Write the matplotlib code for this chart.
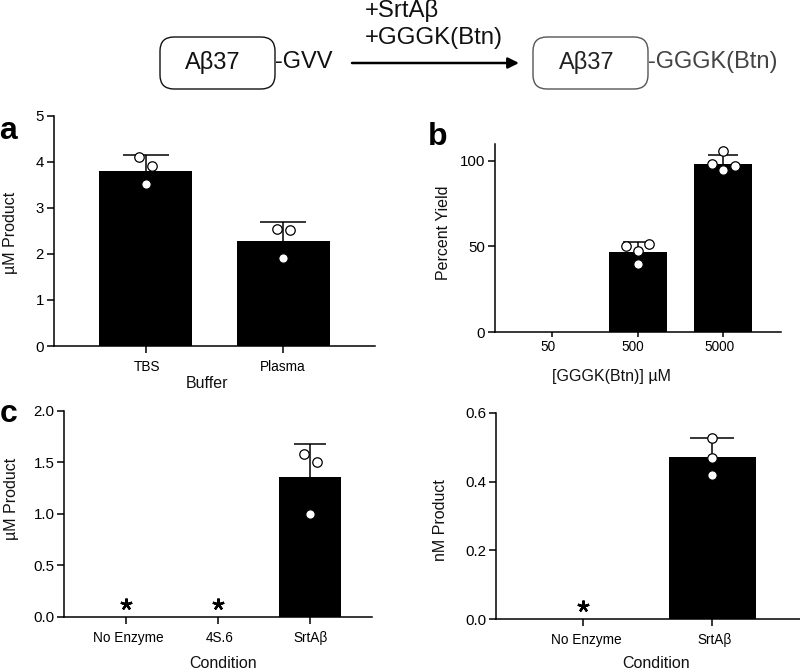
import matplotlib
matplotlib.use("Agg")
import matplotlib.pyplot as plt
from matplotlib.patches import FancyBboxPatch, FancyArrowPatch
from matplotlib.transforms import ScaledTranslation

W, H = 800, 669
plt.rcParams['font.family'] = ['Liberation Sans', 'DejaVu Sans']

# Panel a
a_cats = ["TBS", "Plasma"]
a_vals = [3.81, 2.29]
a_tops = [4.15, 2.70]
a_pts = [[4.11, 3.90, 3.51], [2.55, 2.51, 1.90]]
a_off = [[-0.047, 0.047, 0], [-0.047, 0.047, 0]]
# Panel b
b_cats = ["50", "500", "5000"]
b_vals = [0, 46.7, 98.3]
b_tops = [None, 52.3, 103.5]
b_pts = [[], [50.0, 51.2, 47.3, 39.9], [105.7, 97.9, 97.1, 94.4]]
b_off = [[], [-0.132, 0.132, 0, 0], [0, -0.132, 0.132, 0]]
# Panel c
c_cats = ["No Enzyme", "4S.6", "SrtAβ"]
c_vals = [0, 0, 1.353]
c_tops = [None, None, 1.676]
c_pts = [[], [], [1.58, 1.50, 1.00]]
c_off = [[], [], [-0.07, 0.07, 0]]
c_stars = [(0, 0.12), (1, 0.12)]
# Panel d
d_cats = ["No Enzyme", "SrtAβ"]
d_vals = [0, 0.470]
d_tops = [None, 0.527]
d_pts = [[], [0.527, 0.469, 0.419]]
d_off = [[], [0, 0, 0]]
d_stars = [(0, 0.039)]

fig = plt.figure(figsize=(W / 100, H / 100), dpi=100)

def px_axes(l, r, t, b):
    return fig.add_axes([l / W, 1 - b / H, (r - l) / W, (b - t) / H])

def ftext(x, y, s, **kw):
    kw.setdefault('ha', 'center')
    kw.setdefault('va', 'center')
    fig.text(x / W, 1 - y / H, s, **kw)

def panel(box, xlim, ylim, yticks, ylabels, cats, vals, tops, pts, offs,
          shifts, tick_len=5, stars=(), cap=34, pad=5):
    ax = px_axes(*box)
    ax.set_xlim(*xlim)
    ax.set_ylim(*ylim)
    xs = list(range(len(cats)))
    ax.bar(xs, vals, width=0.676, color='black', zorder=2)
    for x, v, tp, p, o in zip(xs, vals, tops, pts, offs):
        if tp is not None:
            ax.plot([x, x], [v, tp], color='black', lw=1.1, zorder=3,
                    solid_capstyle='butt')
            ax.plot([x], [tp], marker='_', ms=cap, mew=1.1, color='black', zorder=3)
        for yy, dx in zip(p, o):
            ax.plot([x + dx], [yy], 'o', ms=6.8, mfc='white', mec='black',
                    mew=0.9, zorder=4, clip_on=False)
    for sx, sy in stars:
        ax.plot([sx], [sy], marker=(5, 2, 0), ms=8.5, mew=1.7, color='black',
                zorder=4, clip_on=False)
    for s in ('top', 'right'):
        ax.spines[s].set_visible(False)
    for s in ('left', 'bottom'):
        ax.spines[s].set_linewidth(1.1)
    ax.set_yticks(yticks)
    ax.set_yticklabels(ylabels)
    ax.tick_params(axis='y', length=5, width=1.1, pad=2, labelsize=10.8)
    ax.set_xticks(xs)
    ax.set_xticklabels(cats)
    ax.tick_params(axis='x', length=tick_len, width=1.1, pad=pad, labelsize=9.8)
    for lab, dx in zip(ax.get_xticklabels(), shifts):
        lab.set_transform(lab.get_transform() +
                          ScaledTranslation(dx / 100, 0, fig.dpi_scale_trans))
    return ax

panel((53.5, 375, 115.7, 346), (-0.67, 1.666), (0, 5), range(6),
      list("012345"), a_cats, a_vals, a_tops, a_pts, a_off, [1, -1], cap=33)
panel((495, 780.7, 144, 332), (-0.665, 2.67), (0, 109.7), [0, 50, 100],
      ["0", "50", "100"], b_cats, b_vals, b_tops, b_pts, b_off, [-4, -5, -4],
      tick_len=3.8, cap=22, pad=2.2)
panel((64.3, 371.7, 410.7, 616.7), (-0.667, 2.667), (0, 2.0),
      [0, 0.5, 1.0, 1.5, 2.0], ["0.0", "0.5", "1.0", "1.5", "2.0"],
      c_cats, c_vals, c_tops, c_pts, c_off, [3, 2, 0], stars=c_stars, cap=23)
panel((496, 800, 412.7, 619.3), (-0.67, 1.675), (0, 0.6),
      [0, 0.2, 0.4, 0.6], ["0.0", "0.2", "0.4", "0.6"],
      d_cats, d_vals, d_tops, d_pts, d_off, [3, 2], stars=d_stars, cap=32)

# axis titles
ylab = dict(rotation=90, fontsize=11.5, color='#111111')
xlab = dict(fontsize=11.5, color='#111111')
ftext(11, 233, "µM Product", **ylab)
ftext(207, 383, "Buffer", **xlab)
ftext(443, 233, "Percent Yield", **ylab)
ftext(611, 376, "[GGGK(Btn)] µM", **xlab)
ftext(12, 499, "µM Product", **ylab)
ftext(223, 663, "Condition", **xlab)
ftext(440, 520, "nM Product", **ylab)
ftext(656, 663, "Condition", **xlab)

# panel letters
for x, y, s in [(8, 131, "a"), (438, 137, "b"), (9, 414, "c")]:
    ftext(x, y, s, fontsize=23, fontweight='bold', color='black')

# reaction scheme
ov = fig.add_axes([0, 0, 1, 1], zorder=5)
ov.set_xlim(0, W)
ov.set_ylim(H, 0)
ov.axis('off')
ov.patch.set_alpha(0)
for x0, x1, ec in [(160, 275, '#111111'), (533, 648, '#555555')]:
    ov.add_patch(FancyBboxPatch((x0 + 14, 37 + 14), x1 - x0 - 28, 52 - 28,
                                boxstyle="round,pad=14", fc='white', ec=ec, lw=1.0))
ov.add_patch(FancyArrowPatch((352, 63), (519, 63), arrowstyle='-|>',
                             mutation_scale=16, color='black', lw=1.8,
                             shrinkA=0, shrinkB=0))
ov.text(213, 63, "Aβ37", ha='center', va='center', fontsize=17, color='#111111')
ov.text(587, 63, "Aβ37", ha='center', va='center', fontsize=17, color='#222222')
ov.text(275, 62, "-GVV", ha='left', va='center', fontsize=17, color='#111111')
ov.text(648, 62, "-GGGK(Btn)", ha='left', va='center', fontsize=17, color='#444444')
ov.text(365, 10, "+SrtAβ", ha='left', va='center', fontsize=17.3, color='#111111')
ov.text(365, 38, "+GGGK(Btn)", ha='left', va='center', fontsize=17.3, color='#111111')

fig.savefig("out.png", dpi=100)
